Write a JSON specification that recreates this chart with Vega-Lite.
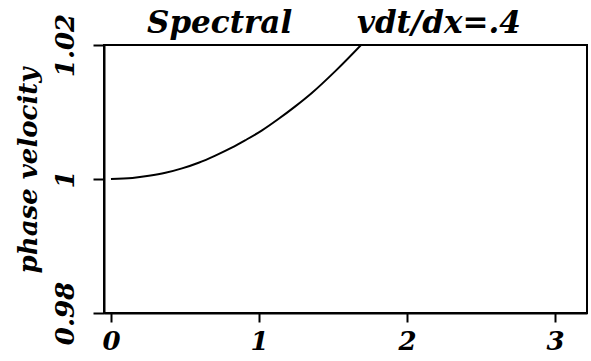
{
  "$schema": "https://vega.github.io/schema/vega-lite/v6.json",
  "width": 483,
  "height": 268,
  "autosize": {"type": "none"},
  "padding": {"left": 104, "top": 45, "right": 4, "bottom": 48},
  "background": "white",
  "title": {
    "text": "Spectral\u00a0\u00a0\u00a0\u00a0\u00a0\u00a0vdt/dx=.4",
    "anchor": "start",
    "frame": "group",
    "dx": 43,
    "dy": 60,
    "offset": 9,
    "baseline": "alphabetic",
    "font": "DejaVu Serif",
    "fontSize": 31,
    "fontStyle": "italic",
    "fontWeight": "bold",
    "color": "black"
  },
  "config": {
    "view": {"stroke": "black", "strokeWidth": 2},
    "axis": {
      "domainColor": "black",
      "domainWidth": 2,
      "tickColor": "black",
      "tickWidth": 2,
      "grid": false,
      "labelFont": "DejaVu Serif",
      "labelFontSize": 26,
      "labelFontStyle": "italic",
      "labelFontWeight": "bold",
      "labelColor": "black",
      "titleFont": "DejaVu Serif",
      "titleFontSize": 26,
      "titleFontStyle": "italic",
      "titleFontWeight": "bold",
      "titleColor": "black"
    }
  },
  "data": {
    "values": [
      {"k": 0.0, "c": 1.0},
      {"k": 0.145, "c": 1.00015},
      {"k": 0.256, "c": 1.00047},
      {"k": 0.368, "c": 1.00092},
      {"k": 0.48, "c": 1.00158},
      {"k": 0.592, "c": 1.00243},
      {"k": 0.705, "c": 1.00350},
      {"k": 0.816, "c": 1.00468},
      {"k": 0.906, "c": 1.00577},
      {"k": 1.018, "c": 1.00722},
      {"k": 1.131, "c": 1.00895},
      {"k": 1.243, "c": 1.01080},
      {"k": 1.355, "c": 1.01280},
      {"k": 1.521, "c": 1.01621},
      {"k": 1.691, "c": 1.02003}
    ]
  },
  "mark": {"type": "line", "color": "black", "strokeWidth": 2, "interpolate": "monotone", "clip": true},
  "encoding": {
    "x": {
      "field": "k",
      "type": "quantitative",
      "scale": {"domain": [-0.047, 3.216], "nice": false, "zero": false},
      "axis": {
        "title": null,
        "values": [0, 1, 2, 3],
        "format": "d",
        "tickSize": 9,
        "labelPadding": 6,
        "labelAngle": 0
      }
    },
    "y": {
      "field": "c",
      "type": "quantitative",
      "scale": {"domain": [0.98, 1.02], "nice": false, "zero": false},
      "axis": {
        "title": "phase velocity",
        "values": [0.98, 1, 1.02],
        "format": ".2~f",
        "tickSize": 11,
        "labelAngle": -90,
        "labelAlign": "center",
        "labelBaseline": "bottom",
        "labelPadding": 15,
        "titlePadding": 11,
        "titleY": 125
      }
    }
  }
}
